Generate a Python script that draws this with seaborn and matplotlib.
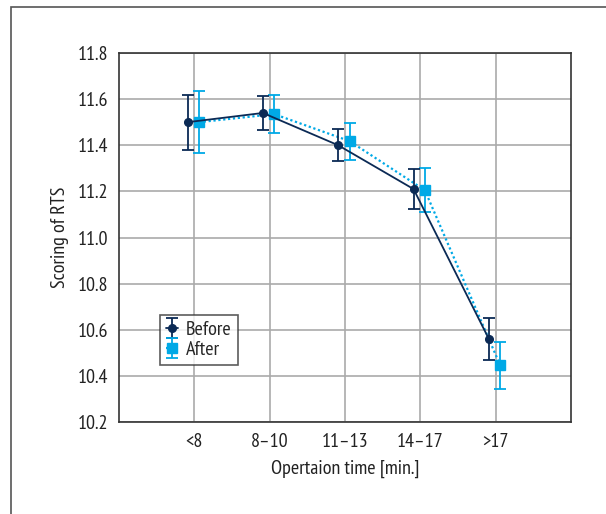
import numpy as np
import matplotlib
matplotlib.use("Agg")
import matplotlib.pyplot as plt
import seaborn as sns
from matplotlib.patches import Rectangle

sns.set_style("white")
plt.rcParams['font.family'] = ['PT Sans Narrow', 'DejaVu Sans']

# data
categories = ["<8", "8–10", "11–13", "14–17", ">17"]
before = [11.50, 11.54, 11.40, 11.21, 10.56]
before_err = [0.12, 0.075, 0.07, 0.085, 0.092]
after = [11.50, 11.535, 11.418, 11.205, 10.446]
after_err = [0.135, 0.083, 0.08, 0.095, 0.103]

navy = "#0b2a55"
cyan = "#00a9e6"

fig = plt.figure(figsize=(6.06, 5.14), dpi=100)
ax = fig.add_axes([119 / 606, 1 - 422 / 514, (571 - 119) / 606, (422 - 53) / 514])

# outer frame (cut off at right/bottom like the source)
fig.patches.append(Rectangle((11 / 606, -0.1), 1.2, 1.1 - 7 / 514, transform=fig.transFigure,
                             fill=False, edgecolor="#555555", linewidth=1.2))

pos = np.arange(len(categories))
ax.errorbar(pos - 0.09, before, yerr=before_err, color=navy, marker="o", markersize=5.5,
            linestyle="-", linewidth=1.3, capsize=4, capthick=1.3, elinewidth=1.3,
            label="Before", zorder=4)
ax.errorbar(pos + 0.06, after, yerr=after_err, color=cyan, marker="s", markersize=6.5,
            linestyle=(0, (1, 1.2)), linewidth=1.6, capsize=4, capthick=1.3, elinewidth=1.3,
            label="After", zorder=3)

ax.set_xlim(-1, 5)
ax.set_ylim(10.2, 11.8)
ax.set_xticks(pos)
ax.set_xticklabels(categories)
ax.set_yticks(np.arange(10.2, 11.81, 0.2))
ax.yaxis.set_major_formatter(matplotlib.ticker.FormatStrFormatter("%.1f"))
ax.tick_params(labelsize=14.5, colors="#222222", length=0, pad=8)
ax.grid(True, color="#aaaaaa", linewidth=1.2)
ax.set_axisbelow(True)
for s in ax.spines.values():
    s.set_color("#333333")
    s.set_linewidth(1.2)

ax.set_xlabel("Opertaion time [min.]", fontsize=14.5, color="#222222", labelpad=6)
ax.set_ylabel("Scoring of RTS", fontsize=14.5, color="#222222", labelpad=6)

leg = ax.legend(loc="lower left", bbox_to_anchor=(0.09, 0.155), fontsize=14.5, frameon=True,
                fancybox=False, edgecolor="#333333", handlelength=0.6, handletextpad=0.4,
                borderpad=0.3, labelspacing=0.1, borderaxespad=0)
leg.get_frame().set_linewidth(1.2)

fig.savefig("out.png", dpi=100)
